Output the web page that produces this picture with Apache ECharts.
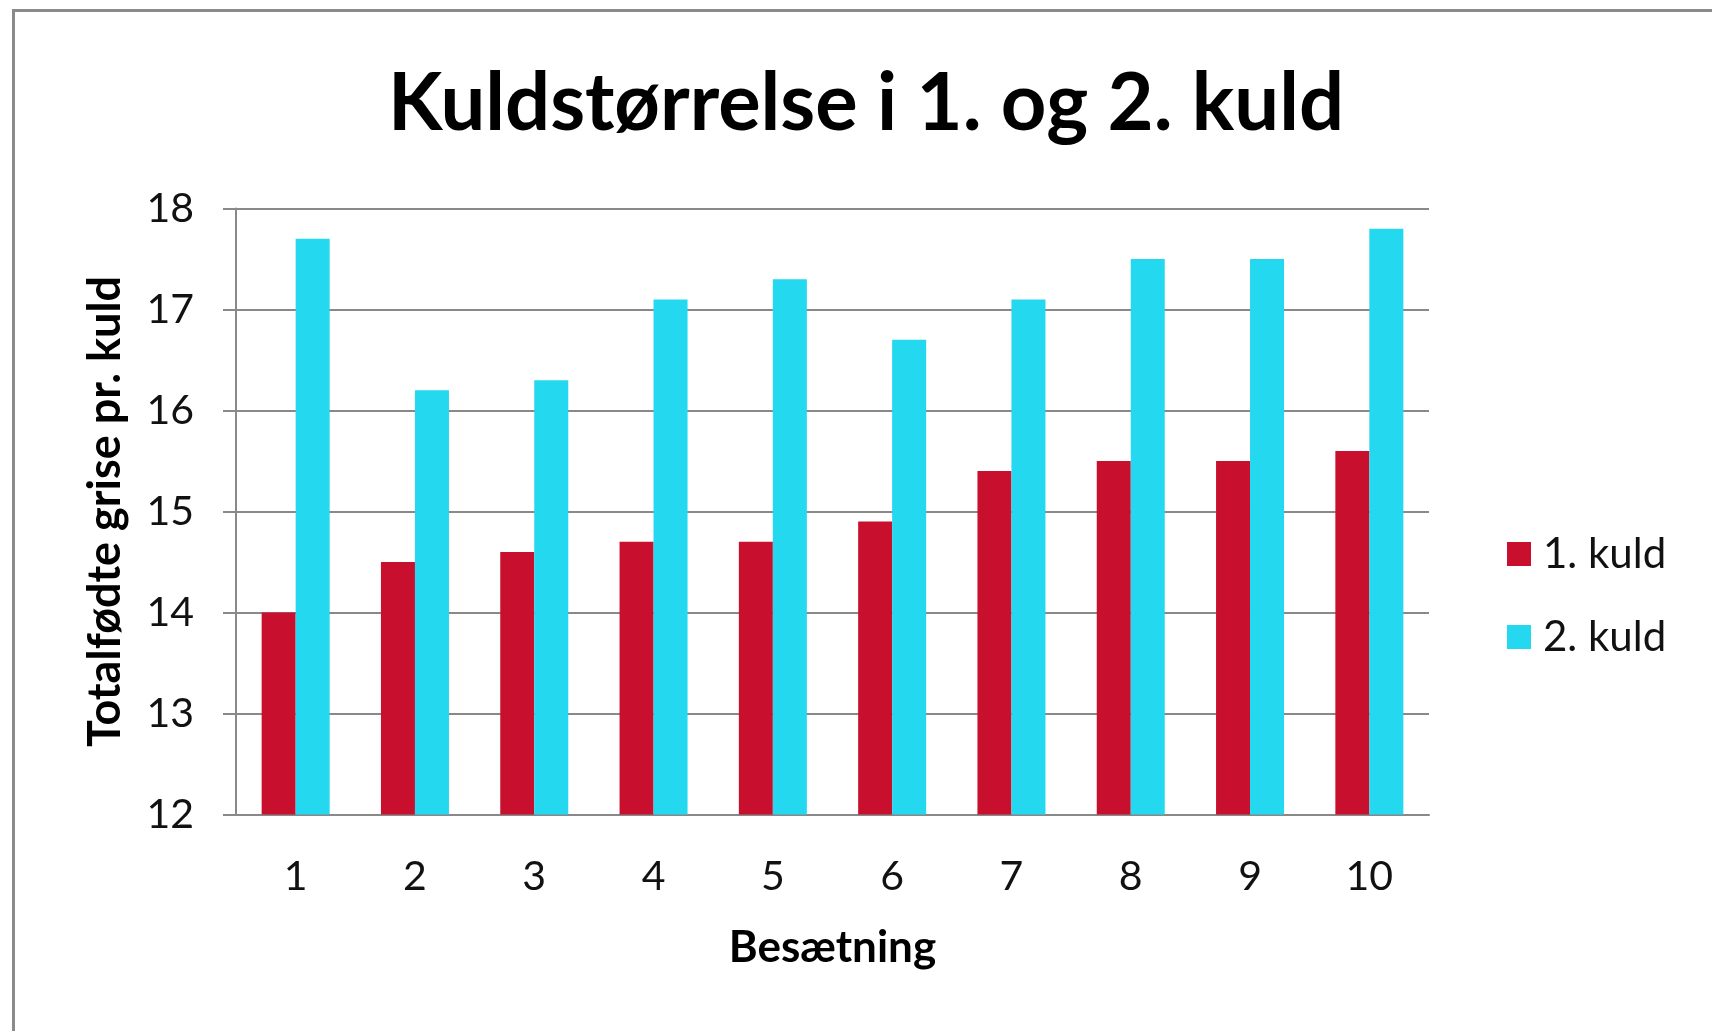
<!DOCTYPE html>
<html>
<head>
<meta charset="utf-8">
<title>Kuldstørrelse i 1. og 2. kuld</title>
<script src="https://cdn.jsdelivr.net/npm/echarts@6/dist/echarts.min.js"></script>
<style>
  html, body { margin: 0; padding: 0; background: #fff; }
  #chart { width: 1712px; height: 1031px; }
</style>
</head>
<body>
<div id="chart"></div>
<script>
// data
var besaetning = ['1', '2', '3', '4', '5', '6', '7', '8', '9', '10'];
var kuld1 = [14.0, 14.5, 14.6, 14.7, 14.7, 14.9, 15.4, 15.5, 15.5, 15.6];
var kuld2 = [17.7, 16.2, 16.3, 17.1, 17.3, 16.7, 17.1, 17.5, 17.5, 17.8];
var seriesNames = ['1. kuld', '2. kuld'];
var colors = ['#C8102E', '#23D8EF'];

var font = 'Lato';
var gray = '#898989';

var chart = echarts.init(document.getElementById('chart'));

var option = {
    animation: false,
    backgroundColor: '#fff',
    color: colors,
    textStyle: { fontFamily: font },
    // grey frame of the chart area (right and bottom sit outside the view)
    graphic: [{
        type: 'rect',
        shape: { x: 13.5, y: 10.5, width: 1800, height: 1100 },
        style: { fill: 'none', stroke: '#8a8a8a', lineWidth: 3 },
        silent: true
    }],
    title: {
        text: 'Kuldstørrelse i 1. og 2. kuld',
        left: 861,
        textAlign: 'center',
        top: 59,
        textStyle: { fontFamily: font, fontSize: 79.5, fontWeight: 'bold', color: '#000' }
    },
    legend: {
        data: seriesNames,
        orient: 'vertical',
        left: 1502,
        top: 528,
        itemWidth: 24,
        itemHeight: 24,
        itemGap: 41,
        icon: 'rect',
        textStyle: { fontFamily: font, fontSize: 42, color: '#111', padding: [0, 0, 0, 7] }
    },
    grid: {
        left: 236,
        right: 283,
        top: 208.5,
        bottom: 216.5
    },
    xAxis: {
        type: 'category',
        data: besaetning,
        name: 'Besætning',
        nameLocation: 'middle',
        nameGap: 111,
        nameTextStyle: { fontFamily: font, fontSize: 44, fontWeight: 'bold', color: '#000' },
        axisLine: { lineStyle: { color: gray, width: 2 } },
        axisTick: { show: false },
        axisLabel: { margin: 42, fontFamily: font, fontSize: 41, color: '#111' }
    },
    yAxis: {
        type: 'value',
        min: 12,
        max: 18,
        interval: 1,
        name: 'Totalfødte grise pr. kuld',
        nameLocation: 'middle',
        nameGap: 108,
        nameTextStyle: { fontFamily: font, fontSize: 45, fontWeight: 'bold', color: '#000' },
        axisLine: { show: true, lineStyle: { color: gray, width: 2 } },
        axisTick: { show: true, length: 13, lineStyle: { color: gray, width: 2 } },
        splitLine: { lineStyle: { color: gray, width: 2 } },
        axisLabel: { margin: 42, fontFamily: font, fontSize: 41, color: '#111' }
    },
    series: [
        { name: seriesNames[0], type: 'bar', data: kuld1, barWidth: 34, barGap: '0%' },
        { name: seriesNames[1], type: 'bar', data: kuld2, barWidth: 34, barGap: '0%' }
    ]
};

chart.setOption(option);
</script>
</body>
</html>
